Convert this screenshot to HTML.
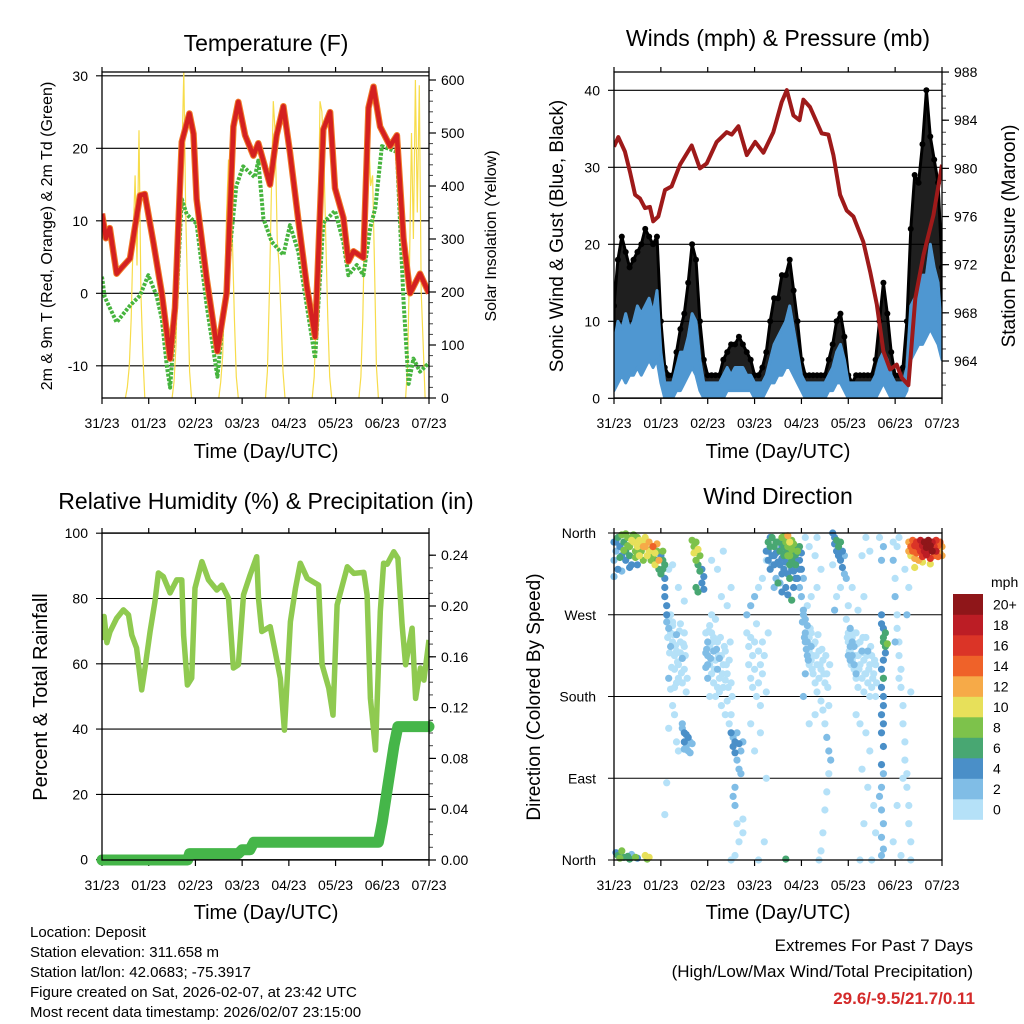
<!DOCTYPE html>
<html><head><meta charset="utf-8">
<style>
html,body{margin:0;padding:0;background:#fff;}
svg{display:block;font-family:"Liberation Sans",Arial,sans-serif;}
</style></head>
<body>
<svg id="fig" width="1024" height="1024" viewBox="0 0 1024 1024" xmlns="http://www.w3.org/2000/svg">
<rect width="1024" height="1024" fill="#fff"/>
<text x="266" y="51" font-size="23" text-anchor="middle">Temperature (F)</text>
<text x="778" y="46" font-size="23" text-anchor="middle">Winds (mph) &amp; Pressure (mb)</text>
<text x="266" y="509" font-size="23" text-anchor="middle">Relative Humidity (%) &amp; Precipitation (in)</text>
<text x="778" y="504" font-size="23" text-anchor="middle">Wind Direction</text>

<text transform="translate(52,236) rotate(-90)" font-size="16" text-anchor="middle">2m &amp; 9m T (Red, Orange) &amp; 2m Td (Green)</text>
<text transform="translate(496,236) rotate(-90)" font-size="16" text-anchor="middle">Solar Insolation (Yellow)</text>
<text transform="translate(563,236) rotate(-90)" font-size="19" text-anchor="middle">Sonic Wind &amp; Gust (Blue, Black)</text>
<text transform="translate(1015,236) rotate(-90)" font-size="19" text-anchor="middle">Station Pressure (Maroon)</text>
<text transform="translate(47,697) rotate(-90)" font-size="20" text-anchor="middle">Percent &amp; Total Rainfall</text>
<text transform="translate(540,697) rotate(-90)" font-size="19" text-anchor="middle">Direction (Colored By Speed)</text>

<text x="266" y="458" font-size="20" text-anchor="middle">Time (Day/UTC)</text>
<text x="778" y="458" font-size="20" text-anchor="middle">Time (Day/UTC)</text>
<text x="266" y="919" font-size="20" text-anchor="middle">Time (Day/UTC)</text>
<text x="778" y="919" font-size="20" text-anchor="middle">Time (Day/UTC)</text>

<g font-size="15">
<text x="30" y="937">Location: Deposit</text>
<text x="30" y="957">Station elevation: 311.658 m</text>
<text x="30" y="977">Station lat/lon: 42.0683; -75.3917</text>
<text x="30" y="997">Figure created on Sat, 2026-02-07, at 23:42 UTC</text>
<text x="30" y="1017">Most recent data timestamp: 2026/02/07 23:15:00</text>
</g>
<text x="973" y="951" font-size="17" text-anchor="end">Extremes For Past 7 Days</text>
<text x="973" y="977" font-size="17" text-anchor="end">(High/Low/Max Wind/Total Precipitation)</text>
<text x="975" y="1004" font-size="17" font-weight="bold" fill="#d42a2a" text-anchor="end">29.6/-9.5/21.7/0.11</text>
</svg>
<script>
// ---- data ----
const dayLabels = ["31/23","01/23","02/23","03/23","04/23","05/23","06/23","07/23"];
const tempHours = [0,2,4,7.5,10,14.4,19.5,22,26.4,30.7,35,37.5,41,44.9,47,48.6,53.8,59.3,64,67.5,70,73.5,77.8,80.3,86.3,89.7,93.2,96.6,100.9,105.2,109.5,113.7,117.2,119.7,124,126.6,129.2,134.3,136.9,139.5,142.9,148,151.5,154.9,158.3,163.4,168];
const tempRed = [11,7.6,9,2.7,3.5,4.8,13.5,13.7,7,0,-9,-2,20.9,24.8,22,13,2,-8,0,23,26.4,21.8,19,20.7,15,21.8,25.8,19.4,10,1,-6,22.6,25,14.5,10.4,4.4,5.8,4.9,25.6,28.5,23,20.3,21.8,7.5,0,2.7,0];
const dewHours = [0,1.4,7.5,14.4,19.5,23.8,28,30.7,33.3,35,38.4,41,43.5,48.6,53.8,59.3,64,69,72.5,78.5,80.3,82.9,87.2,93.2,96.6,100.9,105.2,109.5,113.7,119.7,124,126.6,130.9,134.3,137.8,140.4,143.8,151.5,154.9,157.5,160,163.4,168];
const dewVals = [2.3,-0.5,-4,-1.7,-0.3,2.5,-0.3,-3.5,-10,-13,-0.5,13,10.9,9.6,-1.7,-11.5,1.5,14.8,17.5,16,18.3,10.3,7.1,5.3,9.4,5.7,-1.7,-9,9.7,11.4,7,2.5,3.9,2.5,9,11.8,20.3,19.5,-1,-12.5,-9,-10.8,-9.6];
const solarStartHours = [12,36,60,84,108,132,156];
const solarDaily = [
 [0,20,60,150,300,420,250,505,200,80,0],
 [0,30,100,250,300,450,616,350,200,50,0],
 [0,30,80,200,350,450,400,300,150,40,0],
 [0,50,200,380,560,500,300,250,150,50,0],
 [0,40,150,300,560,540,450,300,150,40,0],
 [0,40,150,350,450,500,400,420,250,60,0],
 [0,60,250,500,300,600,350,590,200,100,0]
];
const windHours = [0,2,4,6,8,10,12,14,16,18,20,22,24,26,28,30,32,34,36,38,40,42,44,46,48,50,52,54,56,58,60,62,64,66,68,70,72,74,76,78,80,82,84,86,88,90,92,94,96,98,100,102,104,106,108,110,112,114,116,118,120,122,124,126,128,130,132,134,136,138,140,142,144,146,148,150,152,154,156,158,160,162,164,166,168];
const windHi = [7,10,9,11,9,10,12,11,12,13,11,14,6,2,2,2,4,6,6,8,11,10,5,2,2,2,2,2,3,4,3,4,4,4,3,3,2,2,2,3,5,7,8,9,10,12,9,6,3,2,2,2,2,2,2,3,4,6,7,5,2,2,2,2,2,2,2,3,5,6,5,3,2,2,2,4,12,13,14,16,16,20,17,15,8];
const windLo = [1,2,3,2,3,3,4,3,4,5,4,5,2,0,0,0,1,1,2,3,4,3,1,0,0,0,0,0,0,1,1,1,1,1,1,1,0,0,0,1,2,2,3,3,4,4,3,2,1,0,0,0,0,0,0,1,1,2,2,1,0,0,0,0,0,0,0,0,1,2,1,0,0,0,0,1,5,6,7,7,8,9,8,7,5];
const gustHi = [12,18,21,19,17,18,19,20,22,21,20,21,10,4,3,3,6,9,11,15,20,18,10,5,3,3,3,3,5,6,7,7,8,7,6,5,3,3,4,6,10,13,13,16,16,18,14,10,5,3,3,3,3,3,3,5,7,10,11,8,3,2,3,3,3,3,3,5,10,15,11,6,3,3,4,10,22,29,28,33,40,34,31,28,17];
const pressHours = [0,2.2,5.6,8.2,10.8,13.3,15.9,18.4,20.1,22.7,26.1,29.5,33.8,39.8,44,47.5,52.6,57.7,60.3,63.7,68,72.3,76.5,81.6,85.9,88.5,91.9,95,97,100.4,106.4,109.8,112.4,115.8,119.2,122.6,127.7,131.2,134.6,138,141.4,144.8,147.4,150.8,154.3,158.5,163.6,168];
const pressVals = [981.8,982.6,981.4,979.7,977.8,977.5,976.7,976.8,975.6,976,978.2,978.5,980.3,981.9,980,980.4,982.2,983,982.8,983.5,981.1,982.2,981.3,983,985.5,986.5,984.4,984,985.7,985.1,982.9,982.8,981.1,977.8,976.5,976,973.9,971.4,968.7,964.8,963.3,963.7,962.6,962,969.2,972.8,976.1,980.3];
const rhHours = [0,1.1,2.5,4.1,7.5,11,13.6,15.3,17.8,20.4,22.1,24.7,27.2,29,31.5,35,38.4,41,41.9,43.9,46.1,47.8,51.3,54.7,59,61.6,65,67.5,70.1,72.7,76.1,79.5,80.4,82.1,86.4,89,91.6,93.7,96.8,99.4,101.9,105.4,111.3,113.1,116.5,118.7,120.8,126,129.4,134.5,136.2,137.9,140.5,143,144.7,146.5,149.9,152,154.2,156,159.3,161.1,163.6,165.4,168];
const rhVals = [67.3,74.5,66.5,69.8,73.9,76.5,75,68.8,64.8,52,58.7,69.9,79,87.8,86.7,81.7,85.7,85.7,68.8,53.5,55.6,83.2,91.3,85.7,82.6,84.1,80.1,58.7,59.7,81.1,87.2,92.8,80,69.9,71.4,63.7,55.6,39.7,72.9,83.2,90.8,86.2,84.1,59.7,52.5,44.3,78,89.7,87.7,88,81.1,49.4,33.6,76,90.8,90.5,94.3,92.3,71.9,59.7,70.9,49.4,58.7,55,67.3];
const precipHours = [0,44,45,70,72,76,78,142,144,147,150,152,168];
const precipVals = [0,0,0.005,0.005,0.008,0.008,0.014,0.014,0.03,0.06,0.09,0.105,0.105];
const speedLabels = ["0","2","4","6","8","10","12","14","16","18","20+"];
const speedColors = ["#b5e1f8","#80bde6","#4a8fc8","#48a772","#7dc24b","#e7e05a","#f6aa48","#ef6229","#db3427","#bc1d25","#8f1619"];
// direction observations [hour, degrees, mph]
const dirClusterA = [[0,350,4],[1,340,3],[2,355,6],[3,345,5],[4,335,4],[4,358,8],[5,350,7],[6,340,6],[6,330,5],[7,355,9],[8,345,8],[8,335,7],[9,325,4],[10,358,9],[10,350,10],[11,340,8],[12,355,9],[12,345,11],[13,335,10],[14,350,10],[14,340,9],[15,330,8],[16,355,11],[16,345,13],[17,335,10],[18,350,12],[18,340,10],[19,330,8],[20,345,15],[20,335,9],[21,325,10],[22,340,8],[22,348,13],[23,330,12],[22,330,7],[23,320,6],[24,335,5],[24,315,6],[2,320,4],[4,318,3],[8,322,5],[12,325,4],[0,330,2],[0,312,2],[6,359,8],[10,356,8],[1,350,5],[3,333,6],[5,341,9],[7,346,8],[9,352,10],[11,333,9],[13,352,11],[15,345,12],[17,350,11],[19,342,9],[21,338,11]];
const dirClusterA2 = [[1,8,4],[2,5,7],[3,2,9],[4,10,8],[5,3,6],[7,4,7],[8,1,6],[9,6,3],[11,3,8],[12,2,5],[16,5,10],[17,1,9],[18,3,11]];
const dirClusterB = [[25,330,7],[25,320,6],[26,310,5],[26,300,4],[26,290,4],[27,280,4],[27,270,4],[27,262,3],[28,255,3],[25,340,8],[26,325,7]];
const dirClusterC = [[40,352,8],[41,345,9],[41,338,10],[42,350,9],[42,330,8],[43,342,10],[43,325,7],[44,335,8],[44,318,6],[45,320,5],[45,305,4],[46,312,5],[42,300,7],[43,295,7],[46,298,4]];
const dirClusterD = [[28,265,1],[29,250,1],[29,235,2],[30,258,1],[30,240,0],[31,225,1],[31,210,1],[32,248,2],[32,230,1],[33,215,0],[33,200,1],[34,260,1],[34,240,1],[35,222,2],[35,195,1],[36,235,0],[36,210,1],[37,185,1],[28,200,2],[29,188,1],[30,170,1],[31,160,1],[32,130,1],[33,120,0],[28,145,1],[27,85,1],[26,50,1],[36,285,1],[33,300,0],[30,325,1],[28,320,1]];
const dirClusterD2 = [[27.5,245,1],[28.5,228,1],[29.5,212,1],[30.5,248,1],[31.5,236,1],[32.5,218,1],[33.5,252,1],[34.5,206,1],[35.5,238,0],[36.5,225,1],[37.5,200,1],[30,262,0],[32,195,1],[34,228,1],[29,270,1],[31,190,1],[36,250,1]];
const dirClusterE = [[35,145,3],[36,140,4],[36,130,4],[37,138,5],[37,125,3],[38,135,4],[38,120,3],[39,130,3],[39,118,2],[35,150,2],[40,128,2],[36,122,3]];
const dirClusterF = [[47,250,1],[48,240,2],[48,225,3],[49,235,1],[49,215,1],[50,250,0],[50,205,1],[51,230,2],[51,195,1],[52,220,1],[52,180,0],[53,240,1],[53,210,2],[54,200,1],[54,185,1],[55,225,1],[55,170,0],[56,215,0],[56,190,1],[57,230,1],[57,160,1],[58,205,1],[58,175,1],[59,220,0],[59,150,1],[60,195,1],[47,212,3],[48,200,3],[49,180,1],[50,270,1],[52,265,1],[55,290,0],[58,280,0],[60,300,1],[53,320,1],[56,340,0],[50,330,1]];
const dirClusterF2 = [[47.5,232,2],[48.5,252,1],[49.5,222,2],[50.5,240,1],[51.5,210,1],[52.5,232,2],[53.5,225,1],[54.5,245,1],[55.5,205,1],[56.5,235,1],[57.5,215,1],[58.5,190,1],[59.5,240,1],[60.5,180,1],[51,245,1],[54,222,2],[57,198,1],[49,258,1],[53,190,1],[47,228,3],[48,215,3]];
const dirClusterG = [[60,140,4],[61,135,3],[61,125,4],[62,130,5],[62,118,4],[63,140,3],[63,110,3],[64,128,4],[64,100,3],[65,120,3],[65,95,2],[66,130,2],[62,80,2],[61,70,2],[62,60,2],[63,40,1],[64,20,1],[60,160,1],[66,45,1],[66,30,1],[62,5,1],[60,0,1]];
const dirClusterG2 = [[68,250,0],[69,235,1],[69,215,1],[70,245,1],[70,200,1],[71,225,0],[71,190,1],[72,240,1],[72,210,1],[73,180,0],[73,260,1],[74,230,1],[74,195,1],[75,215,1],[75,170,1],[76,240,1],[76,205,0],[77,225,1],[78,185,1],[79,250,1],[68,270,2],[70,280,3],[72,290,2],[74,300,1],[76,310,0],[78,330,1],[70,150,0],[75,140,1],[72,120,1],[78,90,0],[77,20,0],[74,0,0]];
const dirClusterH = [[78,340,5],[79,330,4],[79,350,6],[80,320,4],[80,345,6],[81,335,5],[81,355,7],[82,325,4],[82,345,6],[83,310,3],[83,338,5],[84,350,7],[84,328,4],[85,340,6],[85,305,3],[86,355,8],[86,332,5],[87,345,7],[87,320,4],[88,350,9],[88,338,7],[89,357,12],[89,345,9],[90,350,10],[90,335,8],[90,325,6],[91,342,9],[91,330,7],[92,348,9],[92,318,5],[93,336,7],[93,325,6],[94,340,8],[94,310,4],[95,330,5],[95,300,3],[96,320,4],[96,290,3],[97,310,3],[88,300,4],[86,315,5],[84,305,6],[90,310,6],[92,300,4],[89,292,5],[91,286,6],[88,1,6]];
const dirClusterH2 = [[79,340,4],[80,355,5],[81,325,3],[82,335,5],[83,350,6],[84,340,5],[85,325,4],[86,345,5],[87,335,6],[88,328,5],[89,315,4],[90,342,7],[91,352,8],[92,335,6],[93,345,7],[94,330,5],[95,320,4],[96,338,5],[85,350,6],[87,356,9],[89,335,8],[91,320,5],[93,310,4],[95,345,6],[82,300,3],[86,295,4]];
const dirClusterI = [[97,275,2],[98,265,2],[98,250,2],[99,258,2],[99,240,2],[100,245,1],[100,230,1],[101,235,2],[101,220,1],[102,225,1],[102,205,1],[103,240,1],[103,195,1],[104,215,1],[104,185,1],[105,230,0],[105,200,1],[106,210,1],[106,175,1],[107,220,0],[107,165,1],[108,195,1],[108,150,1],[109,205,1],[109,135,2],[110,170,1],[110,120,2],[111,110,2],[110,95,1],[109,75,1],[108,55,1],[107,30,1],[106,10,0],[105,0,0],[103,160,0],[100,150,0],[98,205,2],[97,180,2],[99,280,1],[101,290,0],[104,300,1],[106,320,1],[103,335,1],[100,345,0],[98,355,0],[104,355,0]];
const dirClusterI2 = [[96.5,262,2],[97.5,245,2],[98.5,232,2],[99.5,220,2],[100.5,255,1],[101.5,210,1],[102.5,238,1],[103.5,225,1],[104.5,248,1],[105.5,215,1],[106.5,232,1],[107.5,205,1],[108.5,225,1],[109.5,190,1],[110.5,215,1],[97,270,2],[98,240,2],[99,225,2],[100,215,1],[101,250,1]];
const dirClusterJ = [[112,360,4],[113,355,5],[113,348,4],[114,352,6],[114,340,5],[115,345,7],[115,335,4],[116,350,6],[116,330,5],[117,340,4],[117,322,4],[118,335,3],[118,315,2],[119,310,2],[116,300,1],[114,290,1],[113,275,3],[112,325,1]];
const dirClusterK = [[119,265,1],[120,250,1],[120,240,1],[121,255,2],[121,230,1],[122,245,1],[122,220,1],[123,235,2],[123,210,1],[124,250,1],[124,200,1],[125,225,1],[125,190,0],[126,240,1],[126,215,1],[127,230,2],[127,200,1],[128,220,1],[128,185,1],[129,245,1],[129,205,1],[130,230,2],[130,195,1],[131,215,1],[131,180,1],[132,225,1],[132,190,1],[133,205,1],[134,215,1],[134,180,1],[121,235,3],[122,225,3],[123,215,3],[124,205,3],[120,280,1],[122,300,1],[125,275,1],[128,290,0],[124,160,1],[126,150,1],[129,140,0],[131,120,1],[127,100,1],[130,80,0],[133,60,1],[128,40,1],[134,30,0],[132,0,0],[126,0,0],[131,340,0],[129,355,1],[127,335,0]];
const dirClusterK2 = [[119.5,245,1],[120.5,230,1],[121.5,215,1],[122.5,250,1],[123.5,225,1],[124.5,238,1],[125.5,210,1],[126.5,228,1],[127.5,245,1],[128.5,205,1],[129.5,225,1],[130.5,210,1],[131.5,235,1],[132.5,200,1],[133.5,220,1],[134.5,195,1],[121,220,3],[122,240,3],[120,225,3]];
const dirClusterL = [[137,270,4],[137,260,5],[138,255,5],[138,245,6],[138,240,7],[139,235,6],[139,228,5],[138,220,4],[137,210,4],[138,200,3],[137,190,4],[138,180,4],[138,170,5],[137,160,4],[138,150,4],[137,140,5],[138,125,4],[137,105,4],[138,95,3],[137,80,3],[136,70,2],[137,55,2],[138,40,2],[137,25,2],[138,12,2],[137,5,2],[138,200,6],[137,330,3],[138,345,3],[136,355,1],[139,250,7],[140,238,8]];
const dirClusterM = [[143,350,1],[143,330,2],[144,310,1],[144,290,2],[145,270,1],[145,255,1],[146,240,1],[146,225,1],[147,210,1],[147,190,1],[148,170,1],[148,150,1],[149,130,1],[149,110,1],[150,95,1],[150,80,1],[151,60,1],[151,40,1],[152,20,1],[152,0,1],[144,240,2],[146,200,1],[148,90,1],[145,60,0],[143,20,0],[147,5,0],[150,270,2],[151,300,1],[149,320,1],[145,345,1],[146,355,0],[152,185,1]];
const dirClusterN = [[151,350,13],[151,340,12],[152,345,14],[152,335,11],[153,352,15],[153,340,14],[154,346,16],[154,332,13],[155,350,17],[155,338,15],[156,344,16],[156,330,13],[157,352,18],[157,340,17],[158,346,19],[158,334,16],[159,350,20],[159,340,18],[160,344,21],[160,336,18],[161,352,20],[161,340,19],[162,346,22],[162,332,17],[163,350,18],[163,340,20],[164,345,17],[164,335,15],[165,352,16],[165,340,18],[166,346,15],[166,334,14],[167,350,14],[167,338,13],[168,345,12],[168,335,13],[158,328,10],[162,326,11],[154,322,10]];

// ---- drawing ----
const svg = document.getElementById('fig');
const NS = 'http://www.w3.org/2000/svg';
function mk(tag, attrs, parent){
  const e = document.createElementNS(NS, tag);
  for (const k in attrs) e.setAttribute(k, attrs[k]);
  (parent||svg).appendChild(e);
  return e;
}
function txt(x,y,s,size,anchor,parent){
  const t = mk('text',{x:x,y:y,'font-size':size,'text-anchor':anchor||'middle'},parent);
  t.textContent = s; return t;
}
function pts(hs, vs, fx, fy){ return hs.map((h,i)=>fx(h).toFixed(1)+','+fy(vs[i]).toFixed(1)).join(' '); }

function panelFrame(name, x0, x1, y0, y1){
  const g = mk('g',{});
  
  
  const cid = name+'-clip';
  const cp = mk('clipPath',{id:cid},g);
  mk('rect',{x:x0,y:y0,width:x1-x0,height:y1-y0},cp);
  return {g, cid};
}
function timeAxis(g, x0, x1, y1, y0){
  const fx = h => x0 + h/168*(x1-x0);
  for (let d=0; d<=7; d++){
    const x = fx(d*24);
    const t = mk('line',{x1:x,x2:x,y1:y1,y2:y1+6,stroke:'#000','stroke-width':1.2},g);
    
    
    mk('line',{x1:x,x2:x,y1:y0,y2:y0-5,stroke:'#000','stroke-width':1.2},g);
    const l = txt(x, y1+30, dayLabels[d], 14, 'middle', g);
    
    
  }
  return fx;
}
function leftAxis(g, x0, x1, vals, fy, labels, lx){
  vals.forEach((v,i)=>{
    const y = fy(v);
    const gl = mk('line',{x1:x0-6,x2:x1,y1:y,y2:y,stroke:'#000','stroke-width':1.1},g);
    
    
    const l = txt(lx, y+5, labels[i], 14, 'end', g);
    
    
  });
}
function rightAxis(g, x1, vals, fy, labels, minorVals){
  minorVals.forEach(v=>{ mk('line',{x1:x1,x2:x1+4,y1:fy(v),y2:fy(v),stroke:'#444','stroke-width':1},g); });
  vals.forEach((v,i)=>{
    const y = fy(v);
    mk('line',{x1:x1,x2:x1+7,y1:y,y2:y,stroke:'#000','stroke-width':1.2},g);
    const l = txt(x1+12, y+5, labels[i], 14, 'start', g);
    
    
  });
}
function box(g,x0,x1,y0,y1){
  mk('rect',{x:x0,y:y0,width:x1-x0,height:y1-y0,fill:'none',stroke:'#000','stroke-width':1.3},g);
}

// Panel 1: temperature
(function(){
  const x0=102,x1=429,y0=72,y1=398;
  const {g,cid} = panelFrame('temperature-panel',x0,x1,y0,y1);
  const fx = timeAxis(g,x0,x1,y1,y0);
  const fy = v => 293.3 - v*7.25;
  const fs = v => 398 - v*0.53;
  leftAxis(g,x0,x1,[-10,0,10,20,30],fy,['-10','0','10','20','30'],88);
  const mn=[]; for(let v=0;v<=600;v+=20) mn.push(v);
  rightAxis(g,x1,[0,100,200,300,400,500,600],fs,['0','100','200','300','400','500','600'],mn);
  const pg = mk('g',{'clip-path':'url(#'+cid+')'},g);
  solarDaily.forEach((day,di)=>{
    const hs = day.map((v,k)=>solarStartHours[di]+k);
    const p = mk('polyline',{points:pts(hs,day,fx,fs),fill:'none',stroke:'#f7dc4a','stroke-width':1.2},pg);
    
    
  });
  const dp = mk('polyline',{points:pts(dewHours,dewVals,fx,fy),fill:'none',stroke:'#46b43e','stroke-width':4,'stroke-dasharray':'3,1.5','stroke-linejoin':'round'},pg);
  
  
  const op = mk('polyline',{points:pts(tempHours,tempRed,fx,fy),fill:'none',stroke:'#f07a28','stroke-width':6.5,'stroke-linejoin':'round'},pg);
  
  
  const rp = mk('polyline',{points:pts(tempHours,tempRed,fx,fy),fill:'none',stroke:'#d42020','stroke-width':4.5,'stroke-linejoin':'round'},pg);
  
  
  box(g,x0,x1,y0,y1);
})();

// Panel 2: winds
(function(){
  const x0=614,x1=942,y0=72,y1=398;
  const {g,cid} = panelFrame('winds-panel',x0,x1,y0,y1);
  const fx = timeAxis(g,x0,x1,y1,y0);
  const fy = v => 398.3 - v*7.7;
  const fp = p => 361 - (p-964)*12.04;
  leftAxis(g,x0,x1,[0,10,20,30,40],fy,['0','10','20','30','40'],600);
  const mn=[]; for(let p=962;p<=988;p+=1) mn.push(p);
  rightAxis(g,x1,[964,968,972,976,980,984,988],fp,['964','968','972','976','980','984','988'],mn);
  const pg = mk('g',{'clip-path':'url(#'+cid+')'},g);
  const up = windHours.map((h,i)=>fx(h).toFixed(1)+','+fy(gustHi[i]).toFixed(1));
  const dn = windHours.map((h,i)=>fx(h).toFixed(1)+','+fy(windHi[i]).toFixed(1)).reverse();
  const gb = mk('polygon',{points:up.concat(dn).join(' '),fill:'#000','fill-opacity':0.88,stroke:'#000','stroke-width':3,'stroke-linejoin':'round'},pg);
  
  
  windHours.forEach((h,i)=>{
    const c = mk('circle',{cx:fx(h),cy:fy(gustHi[i]),r:3,fill:'#000'},pg);
    
    
  });
  const wu = windHours.map((h,i)=>fx(h).toFixed(1)+','+fy(windHi[i]).toFixed(1));
  const wd = windHours.map((h,i)=>fx(h).toFixed(1)+','+fy(windLo[i]).toFixed(1)).reverse();
  const wb = mk('polygon',{points:wu.concat(wd).join(' '),fill:'#4f97d1',stroke:'#4f97d1','stroke-width':3,'stroke-linejoin':'round'},pg);
  
  
  const pl = mk('polyline',{points:pts(pressHours,pressVals,fx,fp),fill:'none',stroke:'#9e1a1a','stroke-width':4,'stroke-linejoin':'round'},pg);
  
  
  box(g,x0,x1,y0,y1);
})();

// Panel 3: RH & precip
(function(){
  const x0=102,x1=429,y0=533,y1=860;
  const {g,cid} = panelFrame('humidity-panel',x0,x1,y0,y1);
  const fx = timeAxis(g,x0,x1,y1,y0);
  const fy = v => 859.7 - v*3.265;
  const fr = v => 860 - v*1270;
  leftAxis(g,x0,x1,[0,20,40,60,80,100],fy,['0','20','40','60','80','100'],88);
  const mn=[]; for(let v=0;v<=0.25;v+=0.01) mn.push(v);
  rightAxis(g,x1,[0,0.04,0.08,0.12,0.16,0.2,0.24],fr,['0.00','0.04','0.08','0.12','0.16','0.20','0.24'],mn);
  const pg = mk('g',{'clip-path':'url(#'+cid+')'},g);
  const rh = mk('polyline',{points:pts(rhHours,rhVals,fx,fy),fill:'none',stroke:'#8fca50','stroke-width':5.5,'stroke-linejoin':'round'},pg);
  
  
  const pr = mk('polyline',{points:pts(precipHours,precipVals,fx,fr),fill:'none',stroke:'#45b649','stroke-width':11,'stroke-linejoin':'round','stroke-linecap':'round'},g);
  
  
  box(g,x0,x1,y0,y1);
})();

// Panel 4: wind direction
(function(){
  const x0=614,x1=942,y0=533,y1=860;
  const {g,cid} = panelFrame('direction-panel',x0,x1,y0,y1);
  const fx = timeAxis(g,x0,x1,y1,y0);
  const fy = d => 860 - d*327/360;
  leftAxis(g,x0,x1,[0,90,180,270,360],fy,['North','East','South','West','North'],596);
  const all = [].concat(dirClusterA,dirClusterA2,dirClusterB,dirClusterC,dirClusterD,dirClusterD2,dirClusterE,dirClusterF,dirClusterF2,dirClusterG,dirClusterG2,dirClusterH,dirClusterH2,dirClusterI,dirClusterI2,dirClusterJ,dirClusterK,dirClusterK2,dirClusterL,dirClusterM,dirClusterN);
  all.sort((a,b)=>a[2]-b[2]);
  const pg = mk('g',{},g);
  all.forEach(o=>{
    const idx = Math.min(10, Math.floor(o[2]/2));
    const c = mk('circle',{cx:fx(o[0]).toFixed(1),cy:fy(o[1]).toFixed(1),r:3.6,fill:speedColors[idx]},pg);
    
    
  });
  box(g,x0,x1,y0,y1);
  // colorbar
  const cb = mk('g',{});
  
  
  const top=594, h=20.5;
  speedColors.forEach((col,i)=>{
    const y = top + (10-i)*h;
    const r = mk('rect',{x:953,y:y.toFixed(1),width:30,height:(h+0.3).toFixed(1),fill:col},cb);
    
    
    const l = txt(993, y+h/2+5, speedLabels[i], 14, 'start', cb);
    
    
  });
  const u = txt(991, 587, 'mph', 14, 'start', cb);
  
  
})();
</script>
</body></html>
